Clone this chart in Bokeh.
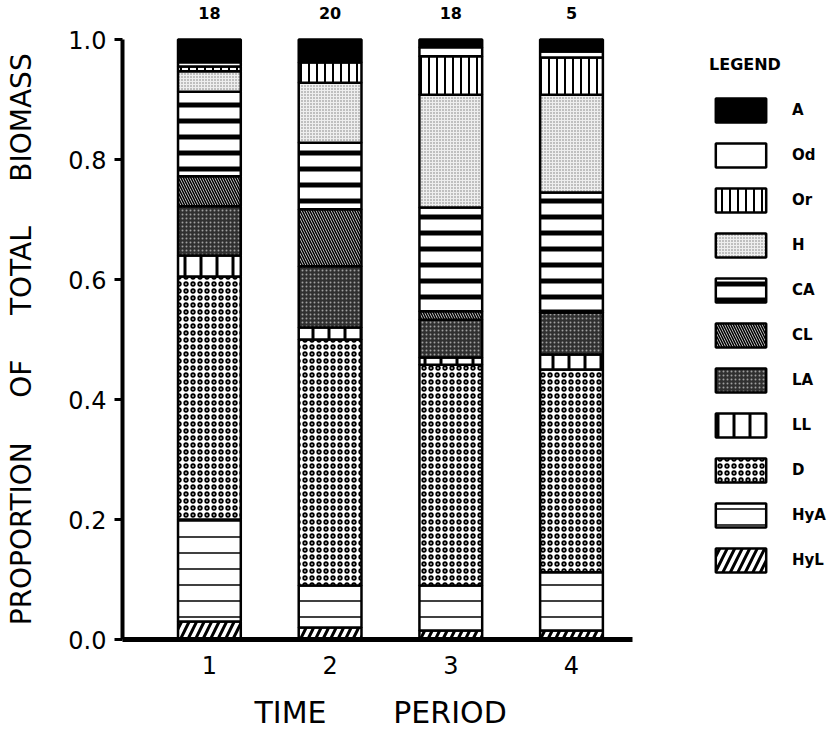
from bokeh.plotting import figure
from bokeh.models import Range1d, FixedTicker, Legend, LegendItem, ColumnDataSource
from bokeh.core.properties import value
from bokeh.embed import file_html
from bokeh.resources import INLINE

# ---------------- data ----------------
periods = [1, 2, 3, 4]
period_labels = ["1", "2", "3", "4"]
sample_counts = ["18", "20", "18", "5"]

# categories stacked bottom -> top
categories = ["HyL", "HyA", "D", "LL", "LA", "CL", "CA", "H", "Or", "Od", "A"]
HyL = [0.030, 0.020, 0.015, 0.015]
HyA = [0.170, 0.070, 0.075, 0.097]
D = [0.405, 0.410, 0.368, 0.338]
LL = [0.035, 0.020, 0.012, 0.025]
LA = [0.082, 0.102, 0.063, 0.070]
CL = [0.050, 0.095, 0.014, 0.003]
CA = [0.141, 0.111, 0.173, 0.197]
H = [0.034, 0.100, 0.188, 0.163]
Or = [0.008, 0.034, 0.064, 0.062]
Od = [0.007, 0.000, 0.015, 0.010]
A = [0.038, 0.038, 0.013, 0.020]
series = {"HyL": HyL, "HyA": HyA, "D": D, "LL": LL, "LA": LA, "CL": CL,
          "CA": CA, "H": H, "Or": Or, "Od": Od, "A": A}
legend_order = ["A", "Od", "Or", "H", "CA", "CL", "LA", "LL", "D", "HyA", "HyL"]

y_ticks = [0.0, 0.2, 0.4, 0.6, 0.8, 1.0]
y_tick_labels = ["0.0", "0.2", "0.4", "0.6", "0.8", "1.0"]

# ---------------- styles ----------------
styles = {
    "A":   dict(fill_color="black", hatch_pattern=None),
    "Od":  dict(fill_color="white", hatch_pattern=None),
    "Or":  dict(fill_color="white", hatch_pattern="|", hatch_scale=8, hatch_weight=2, hatch_color="black"),
    "H":   dict(fill_color="#eeeeee", hatch_pattern=".", hatch_scale=3, hatch_weight=1.2, hatch_color="#777777"),
    "CA":  dict(fill_color="white", hatch_pattern="-", hatch_scale=16, hatch_weight=5, hatch_color="black"),
    "CL":  dict(fill_color="#d4d4d4", hatch_pattern="\\", hatch_scale=5, hatch_weight=1.5, hatch_color="black"),
    "LA":  dict(fill_color="#303030", hatch_pattern=".", hatch_scale=4, hatch_weight=1.5, hatch_color="#a0a0a0"),
    "LL":  dict(fill_color="white", hatch_pattern="|", hatch_scale=16, hatch_weight=3, hatch_color="black"),
    "D":   dict(fill_color="white", hatch_pattern="o", hatch_scale=7, hatch_weight=1.8, hatch_color="black"),
    "HyA": dict(fill_color="white", hatch_pattern="-", hatch_scale=16, hatch_weight=1.5, hatch_color="black"),
    "HyL": dict(fill_color="white", hatch_pattern="/", hatch_scale=15, hatch_weight=3, hatch_color="black"),
}

FONT = "DejaVu Sans"

x_start, x_axis_end = 0.28, 4.505
px_per_unit = 120.7
frame_w = 707
y_top = 1.06
p = figure(frame_width=frame_w, frame_height=636, output_backend="svg", toolbar_location=None,
           x_range=Range1d(x_start, x_start + frame_w / px_per_unit),
           y_range=Range1d(0, y_top),
           min_border_left=122, min_border_right=0, min_border_top=3, min_border_bottom=0)
p.outline_line_color = None
p.xgrid.visible = False
p.ygrid.visible = False
p.background_fill_color = "white"

# stacked bars
bottoms = [0.0] * len(periods)
renderers = {}
for cat in categories:
    vals = series[cat]
    tops = [b + v for b, v in zip(bottoms, vals)]
    src = ColumnDataSource(dict(x=periods, bottom=list(bottoms), top=tops))
    st = dict(styles[cat])
    hp = st.pop("hatch_pattern")
    kw = dict(x="x", bottom="bottom", top="top", width=0.52, source=src,
              line_color="black", line_width=2.5)
    kw.update(st)
    if hp is not None:
        kw["hatch_pattern"] = hp
    r = p.vbar(**kw)
    renderers[cat] = r
    bottoms = tops

# sample counts above bars
cnt_src = ColumnDataSource(dict(x=periods, y=[1.045] * len(periods), t=sample_counts))
p.text(x="x", y="y", text="t", source=cnt_src, text_align="center",
       text_baseline="middle", text_font=value(FONT), text_font_size="16px",
       text_font_style="bold", text_color="black")

# axes
p.xaxis.ticker = FixedTicker(ticks=periods)
p.xaxis.major_label_overrides = {i: l for i, l in zip(periods, period_labels)}
p.xaxis.bounds = (x_start, x_axis_end)
p.xaxis.axis_line_width = 5
p.xaxis.major_tick_line_color = None
p.xaxis.minor_tick_line_color = None
p.xaxis.major_label_text_font = FONT
p.xaxis.major_label_text_font_size = "24px"
p.xaxis.major_label_text_color = "black"
p.xaxis.major_label_standoff = 10
p.xaxis.axis_label = "TIME" + "\u00a0" * 7 + "PERIOD" + "\u00a0" * 20
p.xaxis.axis_label_text_font = FONT
p.xaxis.axis_label_text_font_size = "30px"
p.xaxis.axis_label_text_font_style = "normal"
p.xaxis.axis_label_text_color = "black"
p.xaxis.axis_label_standoff = 18

p.yaxis.ticker = FixedTicker(ticks=y_ticks)
p.yaxis.major_label_overrides = {t: l for t, l in zip(y_ticks, y_tick_labels)}
p.yaxis.bounds = (0, 1)
p.yaxis.axis_line_width = 4
p.yaxis.major_tick_out = 8
p.yaxis.major_tick_in = 0
p.yaxis.major_tick_line_width = 3
p.yaxis.minor_tick_line_color = None
p.yaxis.major_label_text_font = FONT
p.yaxis.major_label_text_font_size = "24px"
p.yaxis.major_label_text_color = "black"
p.yaxis.major_label_standoff = 8
sp = "\u00a0" * 5
p.yaxis.axis_label = "PROPORTION" + sp + "OF" + sp + "TOTAL" + sp + "BIOMASS" + "\u00a0" * 4
p.yaxis.axis_label_text_font = FONT
p.yaxis.axis_label_text_font_size = "28px"
p.yaxis.axis_label_text_font_style = "normal"
p.yaxis.axis_label_text_color = "black"
p.yaxis.axis_label_standoff = 27

# legend
items = [LegendItem(label=c, renderers=[renderers[c]]) for c in legend_order]
legend = Legend(items=items, title="LEGEND", location=(587, 64),
                glyph_width=63, glyph_height=30, spacing=15, label_standoff=20,
                padding=0, margin=0, border_line_color=None, background_fill_alpha=0,
                label_text_font=FONT, label_text_font_size="15px", label_text_font_style="bold",
                label_text_color="black",
                title_text_font=FONT, title_text_font_size="16px", title_text_font_style="bold",
                title_text_color="black",
                title_standoff=21, label_height=30)
p.add_layout(legend)

open("out.html", "w").write(file_html(p, INLINE))
